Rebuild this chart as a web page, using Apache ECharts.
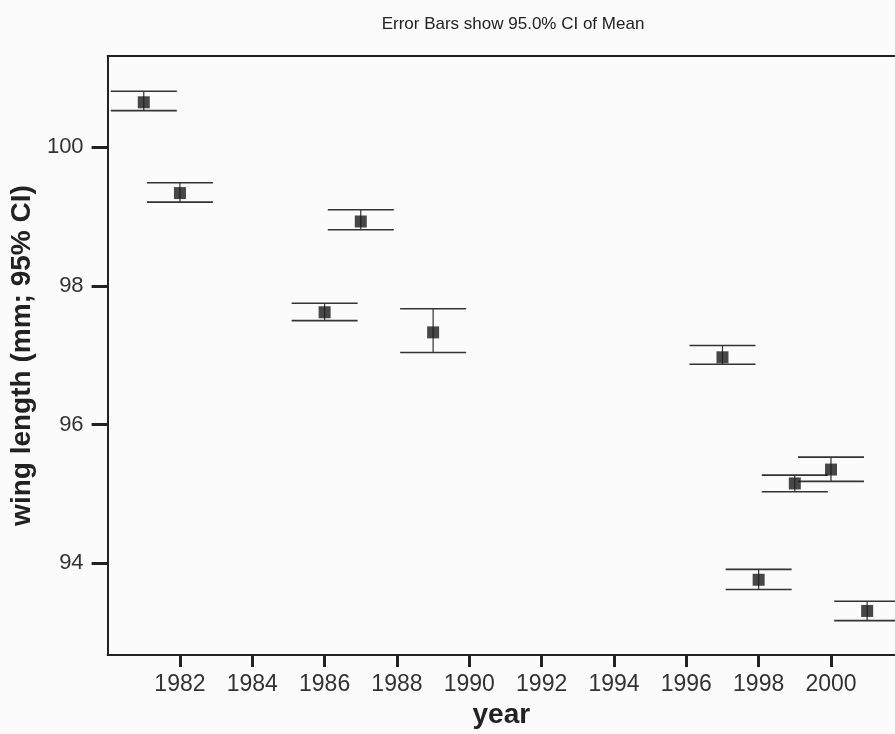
<!DOCTYPE html>
<html>
<head>
<meta charset="utf-8">
<script src="https://cdn.jsdelivr.net/npm/echarts@6/dist/echarts.min.js"></script>
<style>html,body{margin:0;background:#fbfbfb}#c{width:895px;height:734px}</style>
</head>
<body>
<div id="c"></div>
<script>
// wing length by year — mean with 95% CI
const years = [1981, 1982, 1986, 1987, 1989, 1997, 1998, 1999, 2000, 2001];
const means = [100.65, 99.34, 97.62, 98.93, 97.33, 96.97, 93.76, 95.15, 95.35, 93.31];
const lower = [100.53, 99.21, 97.50, 98.81, 97.04, 96.87, 93.62, 95.03, 95.18, 93.17];
const upper = [100.81, 99.49, 97.75, 99.10, 97.67, 97.14, 93.91, 95.27, 95.53, 93.45];
const xTicks = [1982, 1984, 1986, 1988, 1990, 1992, 1994, 1996, 1998, 2000];
const yTicks = [94, 96, 98, 100];

const FONT = 'Liberation Sans, Arial, sans-serif';
const INK = '#222';

function errBar(params, api) {
  const x = api.value(0);
  const lo = api.coord([x, api.value(1)]);
  const hi = api.coord([x, api.value(2)]);
  const w = 33; // cap half width, px
  const cap = {stroke: '#333', lineWidth: 1.6};
  return {type: 'group', children: [
    {type: 'line', shape: {x1: hi[0], y1: hi[1], x2: lo[0], y2: lo[1]}, style: {stroke: '#333', lineWidth: 1.2}},
    {type: 'line', shape: {x1: hi[0] - w, y1: hi[1], x2: hi[0] + w, y2: hi[1]}, style: cap},
    {type: 'line', shape: {x1: lo[0] - w, y1: lo[1], x2: lo[0] + w, y2: lo[1]}, style: cap}
  ]};
}

const X_MIN = 1980, X_MAX = 2001.77;

const chart = echarts.init(document.getElementById('c'), null, {renderer: 'canvas'});
chart.setOption({
  backgroundColor: '#fbfbfb',
  animation: false,
  textStyle: {fontFamily: FONT},
  title: {
    text: 'Error Bars show 95.0% CI of Mean',
    left: 508, top: 11, textAlign: 'center',
    textStyle: {fontSize: 17, fontWeight: 'normal', color: INK, fontFamily: FONT}
  },
  grid: {left: 107, top: 56, right: 0, bottom: 78},
  xAxis: [{
    type: 'value', min: X_MIN, max: X_MAX,
    name: 'year', nameLocation: 'middle', nameGap: 40,
    nameTextStyle: {fontSize: 28, fontWeight: 'bold', color: INK, fontFamily: FONT},
    axisLine: {show: true, lineStyle: {color: INK, width: 2}},
    axisTick: {show: true, length: 12, customValues: xTicks, lineStyle: {color: INK, width: 3}},
    axisLabel: {customValues: xTicks, formatter: v => String(v), margin: 18,
      fontSize: 23, color: '#333', fontFamily: FONT},
    splitLine: {show: false}
  }, {
    // top frame line only
    type: 'value', position: 'top', min: X_MIN, max: X_MAX,
    axisLine: {show: true, lineStyle: {color: INK, width: 2}},
    axisTick: {show: false}, axisLabel: {show: false}, splitLine: {show: false}
  }],
  yAxis: {
    type: 'value', min: 92.673, max: 101.318,
    name: 'wing length (mm; 95% CI)', nameLocation: 'middle', nameGap: 46,
    nameTextStyle: {fontSize: 28, fontWeight: 'bold', color: INK, fontFamily: FONT},
    axisLine: {show: true, lineStyle: {color: INK, width: 2}},
    axisTick: {show: true, length: 16, customValues: yTicks, lineStyle: {color: INK, width: 3}},
    axisLabel: {customValues: yTicks, margin: 24, fontSize: 22, color: '#333', fontFamily: FONT},
    splitLine: {show: false}
  },
  series: [
    {
      type: 'custom', renderItem: errBar, z: 2,
      encode: {x: 0, y: [1, 2]},
      data: years.map((y, i) => [y, lower[i], upper[i]])
    },
    {
      type: 'scatter', symbol: 'rect', symbolSize: 12, z: 3,
      itemStyle: {color: '#1a1a1a'},
      data: years.map((y, i) => [y, means[i]])
    }
  ]
});
</script>
</body>
</html>
